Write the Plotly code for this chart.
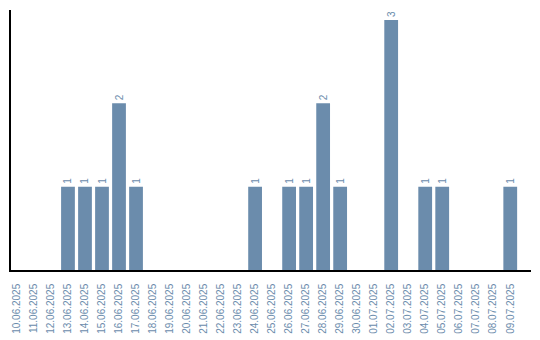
import plotly.graph_objects as go

dates = ["10.06.2025","11.06.2025","12.06.2025","13.06.2025","14.06.2025","15.06.2025",
         "16.06.2025","17.06.2025","18.06.2025","19.06.2025","20.06.2025","21.06.2025",
         "22.06.2025","23.06.2025","24.06.2025","25.06.2025","26.06.2025","27.06.2025",
         "28.06.2025","29.06.2025","30.06.2025","01.07.2025","02.07.2025","03.07.2025",
         "04.07.2025","05.07.2025","06.07.2025","07.07.2025","08.07.2025","09.07.2025"]
counts = [0,0,0,1,1,1,2,1,0,0,0,0,0,0,1,0,1,1,2,1,0,0,3,0,1,1,0,0,0,1]

bar_color = "#6b8cac"
labels = [str(v) if v > 0 else "" for v in counts]
font_family = "Liberation Sans, Arial, sans-serif"

fig = go.Figure(go.Bar(
    x=dates, y=counts, marker_color=bar_color, marker_line_width=0,
    text=labels, textposition="outside", textangle=-90,
    textfont=dict(color=bar_color, size=10, family=font_family),
    cliponaxis=False,
))
fig.update_layout(
    width=540, height=340, margin=dict(l=11, r=9, t=10, b=70),
    plot_bgcolor="white", paper_bgcolor="white", bargap=0.19,
    showlegend=False,
)
fig.update_xaxes(type="category", range=[-0.35, 30.22], tickangle=-90, showline=True,
                 linecolor="black", linewidth=1.5, ticks="", showgrid=False,
                 ticklabelstandoff=8, automargin=False,
                 tickfont=dict(color=bar_color, size=10, family=font_family))
fig.update_yaxes(range=[0, 3.12], showline=True, linecolor="black", linewidth=1.5,
                 showticklabels=False, ticks="", showgrid=False, zeroline=False,
                 automargin=False)
fig.write_html("out.html")
